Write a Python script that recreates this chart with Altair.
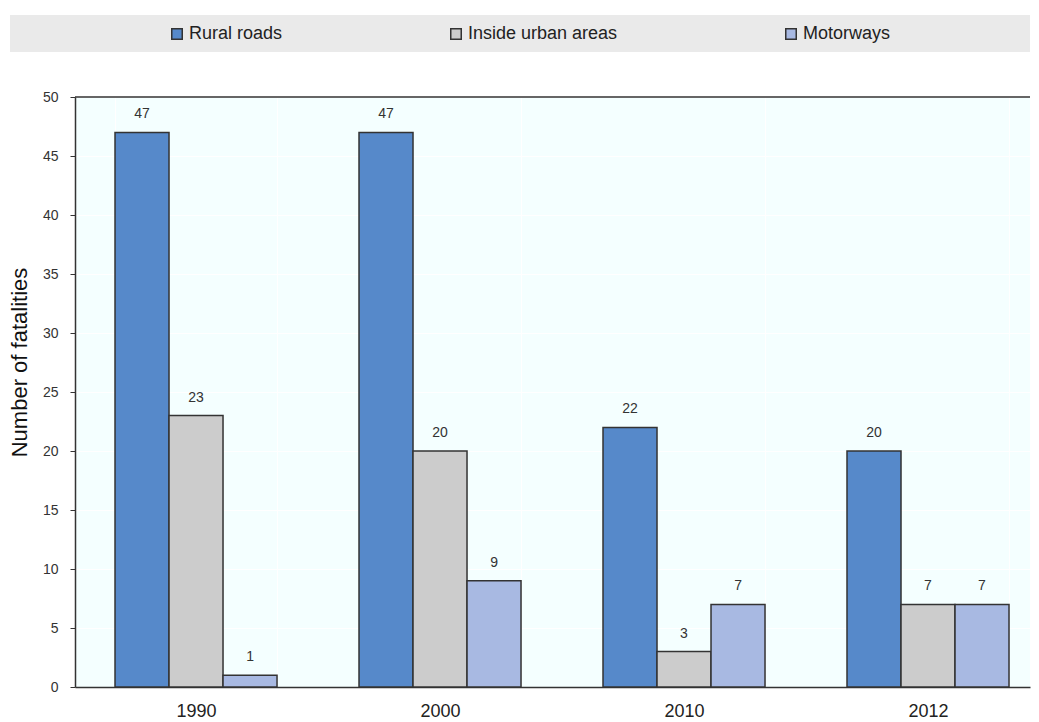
import altair as alt
import pandas as pd

years = ["1990", "2000", "2010", "2012"]
series = ["Rural roads", "Inside urban areas", "Motorways"]
rural = [47, 47, 22, 20]
urban = [23, 20, 3, 7]
motor = [1, 9, 7, 7]
colors = ["#5689CA", "#CCCCCC", "#A8B9E2"]

rows = []
for i, yr in enumerate(years):
    for s, vals in zip(series, [rural, urban, motor]):
        rows.append({"year": yr, "series": s, "value": vals[i]})
df = pd.DataFrame(rows)

W, H = 955, 590
FONT = "Liberation Sans"

x = alt.X(
    "year:N", sort=years,
    scale=alt.Scale(paddingInner=0.336, paddingOuter=0.125, align=0.656),
    axis=alt.Axis(title=None, labelAngle=0, labelFontSize=18, labelFont=FONT,
                  labelColor="#222", tickSize=0, domainColor="#333", domainWidth=1.5,
                  labelPadding=15, grid=True, gridColor="white", gridWidth=1,
                  tickBand="extent"),
)
xo = alt.XOffset("series:N", sort=series, scale=alt.Scale(paddingInner=0, paddingOuter=0))
y = alt.Y(
    "value:Q", scale=alt.Scale(domain=[0, 50]),
    axis=alt.Axis(title="Number of fatalities", values=list(range(0, 51, 5)),
                  titleFont=FONT, titleFontSize=22, titleFontWeight="normal",
                  titleColor="#111", titlePadding=11, titleY=265,
                  labelFont=FONT, labelFontSize=14, labelColor="#333",
                  labelPadding=12, tickSize=5, tickColor="#333",
                  domainColor="#333", domainWidth=1.5,
                  grid=True, gridColor="white", gridWidth=1),
)

band = alt.Chart(alt.Data(values=[{}])).mark_rect(color="#EAEAEA").encode(
    x=alt.value(-65), x2=alt.value(W), y=alt.value(-82), y2=alt.value(-45)
)

topline = alt.Chart(alt.Data(values=[{}])).mark_rule(color="#333", strokeWidth=1.5).encode(
    x=alt.value(0), x2=alt.value(W), y=alt.value(0)
)

bars = alt.Chart(df).mark_bar(stroke="#333", strokeWidth=1.5).encode(
    x=x, xOffset=xo, y=y,
    color=alt.Color(
        "series:N", sort=series,
        scale=alt.Scale(domain=series, range=colors),
        legend=alt.Legend(orient="none", legendX=93, legendY=-72, direction="horizontal",
                          title=None, labelFont=FONT, labelFontSize=18, labelColor="#222",
                          symbolType="square", symbolSize=110, symbolStrokeColor="#333",
                          symbolStrokeWidth=1.5, columnPadding=164, labelOffset=3),
    ),
)

labels = alt.Chart(df).mark_text(
    font=FONT, fontSize=14, color="#333", dy=-14, baseline="alphabetic"
).encode(x=x, xOffset=xo, y=y, text="value:Q")

chart = alt.layer(band, topline, bars, labels).properties(
    width=W, height=H, padding={"left": 0, "top": 7, "right": 0, "bottom": 0}
).configure_view(stroke=None, fill="#F4FFFF")

chart.save("out.html", embed_options={"renderer": "svg", "actions": False})
